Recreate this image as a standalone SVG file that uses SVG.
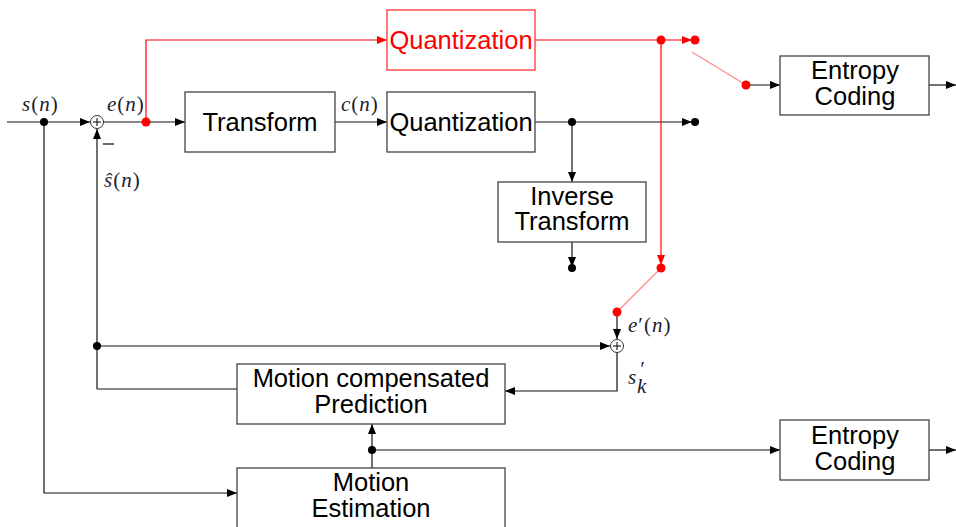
<svg xmlns="http://www.w3.org/2000/svg" width="956" height="527" viewBox="0 0 956 527">
<defs>
<marker id="ab" viewBox="0 0 10 10" refX="10" refY="5" markerWidth="10" markerHeight="10" markerUnits="userSpaceOnUse" orient="auto"><path d="M0,1 L10,5 L0,9 Z" fill="#000"/></marker>
<marker id="ar" viewBox="0 0 10 10" refX="10" refY="5" markerWidth="10" markerHeight="10" markerUnits="userSpaceOnUse" orient="auto"><path d="M0,1 L10,5 L0,9 Z" fill="#f00"/></marker>
</defs>
<style>
.box{fill:#fff;stroke:#444;stroke-width:1.3}
.rbox{fill:#fff;stroke:#f33;stroke-width:1.3}
.t{font-family:"Liberation Sans",Arial,sans-serif;font-size:25.5px;text-anchor:middle;fill:#000}
.rt{font-family:"Liberation Sans",Arial,sans-serif;font-size:25.5px;text-anchor:middle;fill:#f00}
.m{font-family:"Liberation Serif","Times New Roman",serif;font-size:21px;font-style:italic;fill:#1c1c30;letter-spacing:1px}
.w{fill:none;stroke:#111;stroke-width:1.2}
.r{fill:none;stroke:#f00;stroke-width:1.2}
.p{fill:none;stroke:#f88;stroke-width:1.2}
.d{fill:#000}
.rd{fill:#f00}
.sum{fill:#fff;stroke:#333;stroke-width:1}
</style>
<g id="connectors">
<path class="w" d="M7,122 H90" marker-end="url(#ab)"/>
<path class="w" d="M103,122 H185" marker-end="url(#ab)"/>
<path class="w" d="M335,122 H387" marker-end="url(#ab)"/>
<path class="w" d="M535,122 H692" marker-end="url(#ab)"/>
<path class="w" d="M572,122 V182" marker-end="url(#ab)"/>
<path class="w" d="M572,242 V267" marker-end="url(#ab)"/>
<path class="r" d="M146,122 V40 H387" marker-end="url(#ar)"/>
<path class="r" d="M535,40 H692" marker-end="url(#ar)"/>
<path class="r" d="M661,40 V265" marker-end="url(#ar)"/>
<path class="p" d="M661,268 L617,312"/>
<path class="p" d="M692,52 L746,85"/>
<path class="w" d="M746,85 H780" marker-end="url(#ab)"/>
<path class="w" d="M929,85 H956" marker-end="url(#ab)"/>
<path class="w" d="M617,312 V339" marker-end="url(#ab)"/>
<path class="w" d="M97,389 V129" marker-end="url(#ab)"/>
<path class="w" d="M97,389 H237"/>
<path class="w" d="M97,346 H610" marker-end="url(#ab)"/>
<path class="w" d="M617,352 V391 H505" marker-end="url(#ab)"/>
<path class="w" d="M44,122 V493 H237" marker-end="url(#ab)"/>
<path class="w" d="M372,468 V424" marker-end="url(#ab)"/>
<path class="w" d="M372,450 H780" marker-end="url(#ab)"/>
<path class="w" d="M929,450 H956" marker-end="url(#ab)"/>
<circle class="d" cx="44" cy="122" r="4"/>
<circle class="rd" cx="146" cy="122" r="4.5"/>
<circle class="d" cx="572" cy="122" r="4"/>
<circle class="d" cx="695" cy="122" r="4"/>
<circle class="d" cx="572" cy="268" r="4"/>
<circle class="rd" cx="661" cy="40" r="4.5"/>
<circle class="rd" cx="695" cy="40" r="4.5"/>
<circle class="rd" cx="746" cy="85" r="4.5"/>
<circle class="rd" cx="661" cy="268" r="4.5"/>
<circle class="rd" cx="617" cy="312" r="4.5"/>
<circle class="d" cx="97" cy="346" r="4"/>
<circle class="d" cx="372" cy="450" r="4"/>
</g>
<g id="sum1"><circle class="sum" cx="97" cy="122" r="6.5"/><path d="M93,122 H101 M97,118 V126" stroke="#000" stroke-width="1"/></g>
<g id="sum2"><circle class="sum" cx="617" cy="346" r="6.5"/><path d="M613,346 H621 M617,342 V350" stroke="#000" stroke-width="1"/></g>
<g id="transform"><rect class="box" x="185" y="92" width="150" height="60"/><text class="t" x="260" y="131">Transform</text></g>
<g id="quant"><rect class="box" x="387" y="92" width="148" height="60"/><text class="t" x="461" y="131">Quantization</text></g>
<g id="quant-red"><rect class="rbox" x="387" y="10" width="148" height="60"/><text class="rt" x="461" y="49">Quantization</text></g>
<g id="inverse"><rect class="box" x="498" y="182" width="148" height="60"/><text class="t" x="572" y="205">Inverse</text><text class="t" x="572" y="230">Transform</text></g>
<g id="entropy1"><rect class="box" x="780" y="56" width="149" height="59"/><text class="t" x="855" y="79">Entropy</text><text class="t" x="855" y="105">Coding</text></g>
<g id="entropy2"><rect class="box" x="780" y="420" width="149" height="60"/><text class="t" x="855" y="444">Entropy</text><text class="t" x="855" y="470">Coding</text></g>
<g id="mcp"><rect class="box" x="237" y="364" width="268" height="60"/><text class="t" x="371" y="387">Motion compensated</text><text class="t" x="371" y="413">Prediction</text></g>
<g id="me"><rect class="box" x="237" y="468" width="268" height="62"/><text class="t" x="371" y="491">Motion</text><text class="t" x="371" y="517">Estimation</text></g>
<g id="labels">
<text class="m" x="22" y="111">s<tspan font-style="normal">(</tspan>n<tspan font-style="normal">)</tspan></text>
<text class="m" x="107" y="111">e<tspan font-style="normal">(</tspan>n<tspan font-style="normal">)</tspan></text>
<text class="m" x="341" y="111">c<tspan font-style="normal">(</tspan>n<tspan font-style="normal">)</tspan></text>
<text class="m" x="104" y="187">ŝ<tspan font-style="normal">(</tspan>n<tspan font-style="normal">)</tspan></text>
<text class="m" x="628" y="332">e<tspan font-style="normal">′(</tspan>n<tspan font-style="normal">)</tspan></text>
<text class="m" x="628" y="384">s</text>
<text class="m" x="639" y="376" font-size="15" font-style="normal">′</text>
<text class="m" x="637" y="393" font-size="15">k</text>
<path d="M103,144 H114" stroke="#000" stroke-width="1.2"/>
</g>
</svg>
